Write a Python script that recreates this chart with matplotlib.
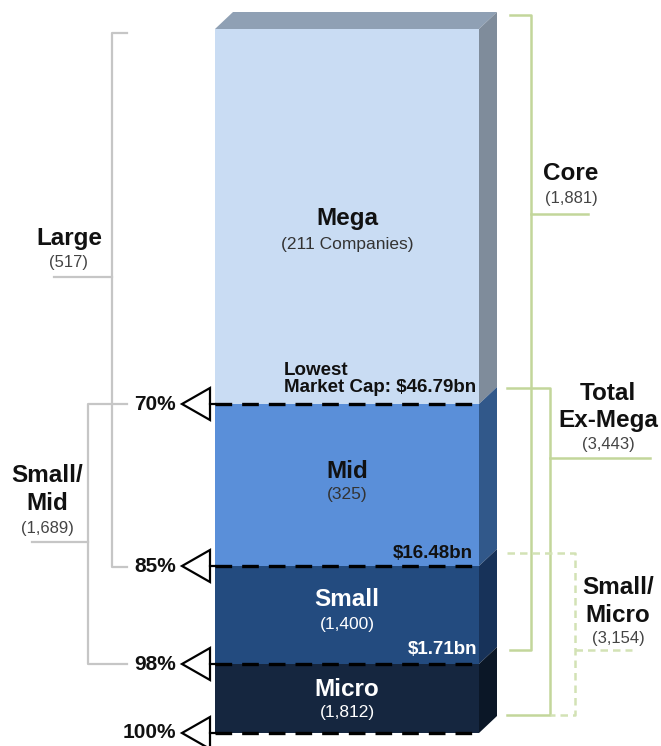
import matplotlib.pyplot as plt
from matplotlib.patches import Polygon

plt.rcParams["font.family"] = ["Liberation Sans", "DejaVu Sans"]

# market cap segments, top to bottom
segments = ["Mega", "Mid", "Small", "Micro"]
companies = [211, 325, 1400, 1812]
pct_labels = ["70%", "85%", "98%", "100%"]
cutoffs = ["Lowest\nMarket Cap: $46.79bn", "$16.48bn", "$1.71bn"]

# bracket groups: name, company count
left_groups = ["Large", "Small/\nMid"]
left_counts = [517, 1689]
right_groups = ["Core", "Total\nEx-Mega", "Small/\nMicro"]
right_counts = [1881, 3443, 3154]

# layout (figure is drawn in pixel-like units)
bar_x0, bar_x1 = 215, 479
depth_x, depth_y = 18, 17
edges = [29, 404, 566, 664, 733]
front_colors = ["#c9dcf3", "#5a8fd9", "#234b7f", "#15263f"]
side_colors = ["#7f8c9b", "#31588a", "#173259", "#0b1727"]
top_color = "#8fa0b4"
text_colors = ["#111111", "#111111", "white", "white"]
gray = "#c6c6c6"
green = "#c3d69b"
green_light = "#d3e2b5"
BIG = 17.5
SMALL = 12


def fmt(n):
    return "({:,})".format(n)


fig = plt.figure(figsize=(6.61, 7.46), dpi=100)
ax = fig.add_axes([0, 0, 1, 1])
ax.set_xlim(0, 661)
ax.set_ylim(746, 0)
ax.axis("off")

# top face
ax.add_patch(Polygon([(bar_x0, edges[0]), (bar_x0 + depth_x, edges[0] - depth_y),
                      (bar_x1 + depth_x, edges[0] - depth_y), (bar_x1, edges[0])],
                     closed=True, facecolor=top_color, edgecolor="none"))

for i, name in enumerate(segments):
    y0, y1 = edges[i], edges[i + 1]
    ax.add_patch(Polygon([(bar_x0, y0), (bar_x1, y0), (bar_x1, y1), (bar_x0, y1)],
                         closed=True, facecolor=front_colors[i], edgecolor="none"))
    ax.add_patch(Polygon([(bar_x1, y0), (bar_x1 + depth_x, y0 - depth_y),
                          (bar_x1 + depth_x, y1 - depth_y), (bar_x1, y1)],
                         closed=True, facecolor=side_colors[i], edgecolor="none"))

cx = (bar_x0 + bar_x1) / 2
name_y = [219, 471, 600, 690]
count_y = [244, 495, 625, 712]
for i, name in enumerate(segments):
    ax.text(cx, name_y[i], name, ha="center", va="center", fontsize=BIG,
            fontweight="bold", color=text_colors[i])
    sub = fmt(companies[i])
    if i == 0:
        sub = "({} Companies)".format(companies[i])
    ax.text(cx, count_y[i], sub, ha="center", va="center", fontsize=12.5,
            color=text_colors[i] if i > 1 else "#333333")

# cutoff labels
ax.text(284, 379, cutoffs[0], ha="left", va="center", fontsize=13.5,
        fontweight="bold", color="#111111", linespacing=1.05)
ax.text(473, 554, cutoffs[1], ha="right", va="center", fontsize=13.5,
        fontweight="bold", color="#111111")
ax.text(477, 649, cutoffs[2], ha="right", va="center", fontsize=13.5,
        fontweight="bold", color="white")

# percentile markers
for y, lab in zip(edges[1:], pct_labels):
    ax.plot([bar_x0, bar_x1], [y, y], color="black", lw=2.4,
            dashes=(5, 3), solid_capstyle="butt")
    ax.add_patch(Polygon([(182, y), (210, y - 16), (210, y + 16)], closed=True,
                         facecolor="white", edgecolor="black", lw=1.6))
    ax.plot([210, bar_x0], [y, y], color="black", lw=1.6)
    ax.text(176, y, lab, ha="right", va="center", fontsize=15, fontweight="bold",
            color="#111111")

# left brackets (gray)
ax.plot([127, 112, 112, 127], [33, 33, 567, 567], color=gray, lw=1.6)
ax.plot([54, 112], [277, 277], color=gray, lw=1.6)
ax.text(69, 238, left_groups[0], ha="center", va="center", fontsize=BIG,
        fontweight="bold", color="#111111")
ax.text(69, 262, fmt(left_counts[0]), ha="center", va="center", fontsize=SMALL,
        color="#444444")

ax.plot([127, 88, 88, 127], [404, 404, 664, 664], color=gray, lw=1.6)
ax.plot([32, 88], [542, 542], color=gray, lw=1.6)
for j, line in enumerate(left_groups[1].split("\n")):
    ax.text(47, 476 + 27 * j, line, ha="center", va="center", fontsize=BIG,
            fontweight="bold", color="#111111")
ax.text(47, 528, fmt(left_counts[1]), ha="center", va="center", fontsize=SMALL,
        color="#444444")

# right brackets (green)
ax.plot([510, 531, 531, 510], [15, 15, 650, 650], color=green, lw=1.8)
ax.plot([531, 588], [214, 214], color=green, lw=1.8)
ax.text(571, 173, right_groups[0], ha="center", va="center", fontsize=BIG,
        fontweight="bold", color="#111111")
ax.text(571, 199, fmt(right_counts[0]), ha="center", va="center", fontsize=SMALL,
        color="#444444")

ax.plot([507, 550, 550, 507], [388, 388, 715, 715], color=green, lw=1.8)
ax.plot([550, 650], [458, 458], color=green, lw=1.8)
for j, line in enumerate(right_groups[1].split("\n")):
    ax.text(608, 393 + 28 * j, line, ha="center", va="center", fontsize=BIG,
            fontweight="bold", color="#111111")
ax.text(608, 445, fmt(right_counts[1]), ha="center", va="center", fontsize=SMALL,
        color="#444444")

ax.plot([507, 575, 575, 550], [553, 553, 715, 715], color=green_light, lw=1.8,
        dashes=(3, 2))
ax.plot([575, 632], [650, 650], color=green_light, lw=1.8, dashes=(3, 2))
for j, line in enumerate(right_groups[2].split("\n")):
    ax.text(618, 587 + 28 * j, line, ha="center", va="center", fontsize=BIG,
            fontweight="bold", color="#111111")
ax.text(618, 639, fmt(right_counts[2]), ha="center", va="center", fontsize=SMALL,
        color="#444444")

fig.savefig("out.png", dpi=100)
